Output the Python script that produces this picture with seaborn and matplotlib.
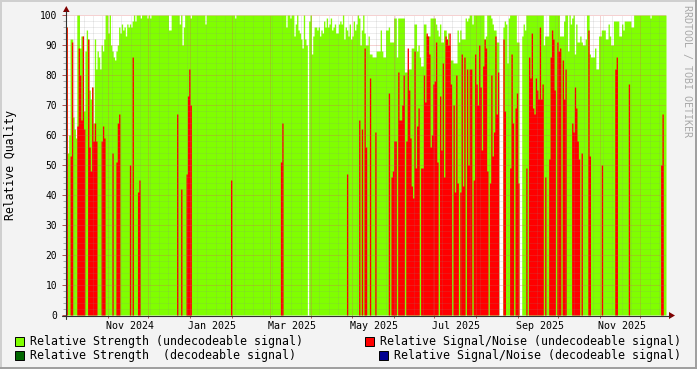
import numpy as np
import pandas as pd
import matplotlib
matplotlib.use("Agg")
import matplotlib.pyplot as plt
import matplotlib.dates as mdates
from matplotlib.lines import Line2D
from matplotlib.patches import Rectangle, Polygon
import seaborn as sns

nan = float("nan")

START_DATE = "2024-10-01"

# Relative Strength (undecodeable signal), one value per day
strength_undecodeable = [
    96, 54, 60, 92, 92, 66, 62, 59, 100, 100,
    89, 93, 93, 68, 88, 95, 92, 75, 72, 76,
    64, 92, 82, 88, 86, 82, 90, 88, 92, 100,
    100, 94, 100, 90, 88, 86, 85, 88, 90, 96,
    94, 97, 95, 96, 93, 97, 96, 97, 96, 98,
    100, 98, 100, 100, 100, 99, 100, 100, 100, 100,
    99, 100, 99, 100, 100, 100, 100, 100, 100, 100,
    100, 100, 100, 100, 100, 100, 95, 95, 100, 100,
    100, 100, 100, 100, 97, 100, 90, 96, 100, 100,
    100, 100, 99, 100, 100, 100, 100, 100, 100, 100,
    100, 100, 100, 97, 100, 100, 100, 100, 100, 100,
    100, 100, 100, 100, 100, 100, 100, 100, 100, 100,
    100, 100, 100, 100, 100, 99, 100, 100, 100, 100,
    100, 100, 100, 100, 100, 100, 100, 100, 100, 100,
    100, 100, 100, 100, 100, 100, 100, 100, 100, 100,
    100, 100, 100, 100, 100, 100, 100, 100, 100, 100,
    100, 100, 100, 96, 100, 100, 99, 100, 100, 93,
    97, 100, 95, 94, 92, 89, 100, 92, 90, nan,
    98, 100, 87, 93, 96, 96, 95, 96, 93, 95,
    94, 98, 96, 99, 96, 97, 99, 95, 96, 97,
    94, 94, 97, 98, 97, 100, 92, 96, 95, 93,
    97, 92, 93, 98, 95, 97, 100, 99, 90, 95,
    100, 94, 90, 90, 93, 87, 87, 86, 86, 86,
    88, 88, 88, 95, 88, 86, 86, 95, 95, 96,
    91, 91, 91, 99, 99, 86, 99, 99, 99, 99,
    99, 81, 81, 82, 82, 82, 89, 89, 97, 97,
    88, 90, 86, 83, 83, 97, 97, 93, 93, 93,
    99, 99, 99, 99, 97, 95, 93, 97, 91, 91,
    95, 95, 92, 94, 90, 85, 85, 84, 84, 84,
    95, 91, 95, 92, 92, 92, 99, 98, 99, 100,
    100, 97, 100, 100, 100, 100, 100, 100, 100, 100,
    92, 93, 100, 100, 100, 99, 97, 95, 95, 91,
    91, nan, nan, nan, 96, 98, 97, 84, 99, 100,
    100, 100, 100, 100, 91, 91, nan, nan, 93, 97,
    95, 100, 100, 100, 100, 100, 100, 100, 100, 100,
    100, 100, 100, 100, 90, 93, 93, 93, 100, 100,
    100, 100, 100, 100, 100, 100, 93, 93, 93, 98,
    100, 100, 88, 100, 97, 99, 100, 87, 97, 91,
    91, 93, 91, 90, 90, 92, 100, 100, 87, 86,
    86, 86, 89, 82, 82, 93, 93, 95, 95, 95,
    92, 92, 97, 93, 90, 90, 98, 98, 98, 98,
    93, 93, 97, 95, 98, 98, 98, 98, 98, 96,
    96, 100, 100, 100, 100, 100, 100, 100, 100, 100,
    100, 100, 100, 99, 100, 100, 100, 100, 100, 100,
    100, 100, 100, 100, 100,
]

# Relative Signal/Noise (undecodeable signal), one value per day
snr_undecodeable = [
    96, 0, 0, 53, 91, 0, 0, 0, 63, 89,
    80, 65, 93, 62, 0, 0, 92, 56, 48, 76,
    58, 64, 58, 0, 0, 0, 58, 63, 59, 0,
    0, 0, 0, 0, 54, 0, 0, 51, 64, 67,
    0, 0, 0, 0, 0, 0, 0, 50, 0, 86,
    0, 0, 0, 41, 45, 0, 0, 0, 0, 0,
    0, 0, 0, 0, 0, 0, 0, 0, 0, 0,
    0, 0, 0, 0, 0, 0, 0, 0, 0, 0,
    0, 0, 67, 0, 0, 42, 0, 0, 0, 47,
    73, 82, 70, 0, 0, 0, 0, 0, 0, 0,
    0, 0, 0, 0, 0, 0, 0, 0, 0, 0,
    0, 0, 0, 0, 0, 0, 0, 0, 0, 0,
    0, 0, 45, 0, 0, 0, 0, 0, 0, 0,
    0, 0, 0, 0, 0, 0, 0, 0, 0, 0,
    0, 0, 0, 0, 0, 0, 0, 0, 0, 0,
    0, 0, 0, 0, 0, 0, 0, 0, 0, 51,
    64, 0, 0, 0, 0, 0, 0, 0, 0, 0,
    0, 0, 0, 0, 0, 0, 0, 0, 0, nan,
    0, 0, 0, 0, 0, 0, 0, 0, 0, 0,
    0, 0, 0, 0, 0, 0, 0, 0, 0, 0,
    0, 0, 0, 0, 0, 0, 0, 0, 47, 0,
    0, 0, 0, 0, 0, 0, 0, 65, 0, 62,
    0, 89, 56, 0, 0, 79, 0, 0, 0, 61,
    0, 0, 0, 0, 0, 0, 0, 0, 0, 74,
    0, 46, 48, 58, 58, 0, 81, 65, 65, 70,
    80, 0, 58, 89, 75, 59, 43, 39, 88, 49,
    63, 69, 0, 49, 49, 80, 71, 94, 93, 87,
    56, 60, 77, 78, 91, 51, 0, 73, 55, 84,
    46, 93, 92, 90, 94, 77, 0, 70, 41, 80,
    44, 0, 41, 87, 43, 86, 0, 82, 50, 82,
    82, 0, 45, 87, 77, 70, 90, 76, 55, 83,
    92, 89, 48, 0, 44, 80, 53, 61, 93, 67,
    81, nan, nan, nan, 92, 68, 0, 0, 0, 49,
    87, 64, 0, 69, 74, 44, nan, nan, 0, 0,
    0, 49, 0, 86, 79, 94, 69, 67, 79, 75,
    72, 96, 72, 77, 0, 46, 0, 0, 52, 86,
    95, 92, 75, 0, 91, 88, 89, 0, 85, 72,
    82, 0, 0, 0, 0, 64, 61, 76, 69, 58,
    52, 0, 54, 0, 0, 0, 0, 95, 53, 0,
    0, 0, 0, 0, 0, 0, 0, 50, 0, 0,
    0, 0, 0, 0, 0, 0, 0, 82, 86, 0,
    0, 0, 0, 0, 0, 0, 0, 77, 0, 0,
    0, 0, 0, 0, 0, 0, 0, 0, 0, 0,
    0, 0, 0, 0, 0, 0, 0, 0, 0, 0,
    0, 50, 67, 0, 0,
]

legend_labels = [
    "Relative Strength (undecodeable signal)",
    "Relative Signal/Noise (undecodeable signal)",
    "Relative Strength  (decodeable signal)",
    "Relative Signal/Noise (decodeable signal)",
]
month_labels = ["Nov 2024", "Jan 2025", "Mar 2025", "May 2025",
                "Jul 2025", "Sep 2025", "Nov 2025"]
month_label_starts = ["2024-11-01", "2025-01-01", "2025-03-01", "2025-05-01",
                      "2025-07-01", "2025-09-01", "2025-11-01"]
y_ticks = [0, 10, 20, 30, 40, 50, 60, 70, 80, 90, 100]

# ---- style ----
GREEN = "#80ff00"
RED = "#ff0000"
DKGREEN = "#006600"
BLUE = "#000090"
BACK = "#f3f3f3"
GRID = (0.55, 0.55, 0.55, 0.30)
MGRID = (0.87, 0.35, 0.35, 0.55)
ARROW = "#800000"
AXIS = "#303030"
MONO = ["DejaVu Sans Mono"]

W, H = 697, 369
sns.set_theme(style="white")
plt.rcParams["font.family"] = MONO

fig = plt.figure(figsize=(W / 100, H / 100), dpi=100, facecolor=BACK)


def fx(x):
    return x / W


def fy(y):
    return 1 - y / H


ax = fig.add_axes([fx(66), fy(315), 600 / W, 300 / H])
ax.set_facecolor("white")

n_days = len(strength_undecodeable)
dates = pd.date_range(START_DATE, periods=n_days, freq="D")
xnum = mdates.date2num(dates) + 0.5   # centre of each day
x0 = xnum[0] - 0.5
x1 = xnum[-1] + 0.5

df = pd.DataFrame({
    "day": xnum,
    "strength": np.nan_to_num(np.array(strength_undecodeable, dtype=float)),
    "snr": np.nan_to_num(np.array(snr_undecodeable, dtype=float)),
})

sns.histplot(data=df, x="day", weights="strength", binwidth=1, binrange=(x0, x1),
             element="step", fill=True, color=GREEN, alpha=1, linewidth=0,
             ax=ax, zorder=1)
sns.histplot(data=df, x="day", weights="snr", binwidth=1, binrange=(x0, x1),
             element="step", fill=True, color=RED, alpha=1, linewidth=0,
             ax=ax, zorder=1.5)

ax.set_xlim(x0, x1)
ax.set_ylim(0, 100)
for s in ax.spines.values():
    s.set_visible(False)
ax.set_xlabel("")
ax.set_ylabel("")

# grid (drawn above the data, rrdtool style)
dot = (0, (1, 1))
for v in range(2, 100, 2):
    if v % 10:
        ax.axhline(v, color=GRID, lw=0.72, ls=dot, zorder=3)
weeks = mdates.date2num(pd.date_range("2024-10-07", "2025-12-19", freq="7D"))
months = mdates.date2num(pd.date_range("2024-11-01", "2025-12-01", freq="MS"))
for w in weeks:
    if np.min(np.abs(months - w)) > 0.5:
        ax.axvline(w, color=GRID, lw=0.72, ls=dot, zorder=3)
for v in range(10, 101, 10):
    ax.axhline(v, color=MGRID, lw=0.72, ls=dot, zorder=3.1)
for m in months:
    ax.axvline(m, color=MGRID, lw=0.72, ls=dot, zorder=3.1)

# ticks
ax.set_yticks(y_ticks)
ax.set_yticklabels([str(t) for t in y_ticks])
ax.set_yticks([v for v in range(2, 100, 2) if v % 10], minor=True)
ax.tick_params(axis="y", which="major", length=3, width=0.7, color="#b05050",
               pad=3.5, labelsize=6.9, labelcolor="black", left=True)
ax.tick_params(axis="y", which="minor", length=2, width=0.6, color="#a0a0a0",
               left=True)
lab_pos = mdates.date2num(pd.to_datetime(month_label_starts)) + 16.5
ax.set_xticks(lab_pos)
ax.set_xticklabels(month_labels)
ax.tick_params(axis="x", length=0, pad=4, labelsize=7.2, labelcolor="black")
ax.set_xticks(months, minor=True)
ax.tick_params(axis="x", which="minor", length=2.5, width=0.7, color="#b05050",
               bottom=True)

# axis lines and arrows
fig.add_artist(Line2D([fx(62), fx(670)], [fy(315.5), fy(315.5)], color=AXIS, lw=0.8))
fig.add_artist(Line2D([fx(66.3), fx(66.3)], [fy(319), fy(11)], color=AXIS, lw=0.8))
fig.add_artist(Polygon([(fx(669), fy(312)), (fx(675), fy(315.5)), (fx(669), fy(319))],
                       closed=True, color=ARROW, lw=0))
fig.add_artist(Polygon([(fx(63), fy(12)), (fx(66.3), fy(6)), (fx(69.6), fy(12))],
                       closed=True, color=ARROW, lw=0))

# y label
fig.text(fx(11), fy(165), "Relative Quality", rotation=90, ha="center",
         va="center", fontsize=8.3, color="black")

# watermark
fig.text(fx(687), fy(5), "RRDTOOL / TOBI OETIKER", rotation=270, ha="center",
         va="top", fontsize=7.2, color="#a8a8a8")

# legend
legend_colors = [GREEN, RED, DKGREEN, BLUE]
sw_x = [15, 365, 15, 379]
tx_x = [30, 380, 30, 394]
row_y = [341, 341, 355.5, 355.5]
for lab, col, sx, tx, ry in zip(legend_labels, legend_colors, sw_x, tx_x, row_y):
    fig.add_artist(Rectangle((fx(sx), fy(ry + 4.5)), 9 / W, 9 / H,
                             facecolor=col, edgecolor="black", lw=0.7))
    fig.text(fx(tx), fy(ry), lab, ha="left", va="center", fontsize=8.4,
             color="black")

# frame
fig.add_artist(Line2D([0, 1], [fy(0.5), fy(0.5)], color="#cfcfcf", lw=1.4))
fig.add_artist(Line2D([fx(0.5), fx(0.5)], [0, 1], color="#cfcfcf", lw=1.4))
fig.add_artist(Line2D([0, 1], [fy(368), fy(368)], color="#9e9e9e", lw=1.4))
fig.add_artist(Line2D([fx(696), fx(696)], [0, 1], color="#9e9e9e", lw=1.4))

fig.savefig("out.png", dpi=100, facecolor=BACK)
